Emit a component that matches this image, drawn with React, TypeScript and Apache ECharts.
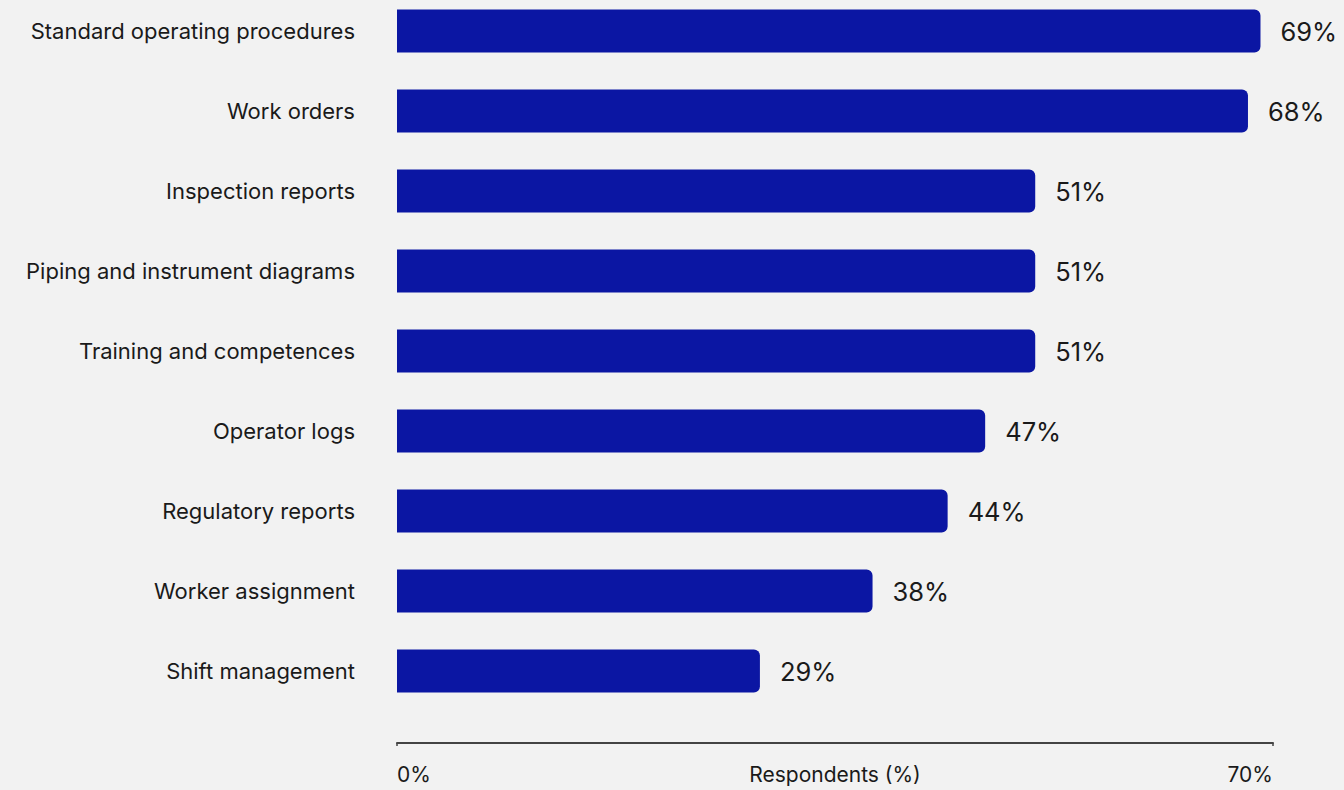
import React, { useEffect, useRef } from "react";
import * as echarts from "echarts";

const categories = [
  "Standard operating procedures",
  "Work orders",
  "Inspection reports",
  "Piping and instrument diagrams",
  "Training and competences",
  "Operator logs",
  "Regulatory reports",
  "Worker assignment",
  "Shift management",
];
const values = [69, 68, 51, 51, 51, 47, 44, 38, 29];
const axisMin = 0;
const axisMax = 70;
const axisName = "Respondents (%)";

const FONT = "Inter, 'Noto Sans', sans-serif";

export default function App() {
  const ref = useRef<HTMLDivElement>(null);
  useEffect(() => {
    document.body.style.margin = "0";
    const chart = echarts.init(ref.current!, undefined, { renderer: "svg" });
    chart.setOption({
      animation: false,
      backgroundColor: "#f2f2f2",
      grid: {
        left: 397,
        right: 71,
        top: -9,
        bottom: 79,
        containLabel: false,
        outerBoundsMode: "none",
      },
      xAxis: {
        type: "value",
        min: axisMin,
        max: axisMax,
        interval: 70,
        offset: 32,
        name: axisName,
        nameLocation: "middle",
        nameGap: 21,
        nameMoveOverlap: false,
        nameTextStyle: { fontFamily: FONT, fontSize: 21, color: "#1a1a1a", verticalAlign: "top" },
        axisLine: { show: true, lineStyle: { color: "#444", width: 2 } },
        axisTick: { show: true, length: 3, lineStyle: { color: "#444", width: 1.5 } },
        splitLine: { show: false },
        axisLabel: {
          fontFamily: FONT,
          fontSize: 21,
          color: "#1a1a1a",
          margin: 21,
          formatter: (v: number) => v + "%",
          alignMinLabel: "left",
          alignMaxLabel: "right",
        },
      },
      yAxis: {
        type: "category",
        data: categories,
        inverse: true,
        axisLine: { show: false },
        axisTick: { show: false },
        axisLabel: {
          fontFamily: FONT,
          fontSize: 22,
          color: "#1a1a1a",
          margin: 42,
        },
      },
      series: [
        {
          type: "bar",
          data: values,
          barWidth: 43,
          itemStyle: { color: "#0b16a3", borderRadius: [0, 6, 6, 0] },
          label: {
            show: true,
            position: "right",
            distance: 20,
            formatter: (p: any) => p.value + "%",
            fontFamily: FONT,
            fontSize: 25.5,
            color: "#1a1a1a",
          },
        },
      ],
    });
    return () => chart.dispose();
  }, []);
  return <div ref={ref} style={{ width: 1344, height: 790 }} />;
}
